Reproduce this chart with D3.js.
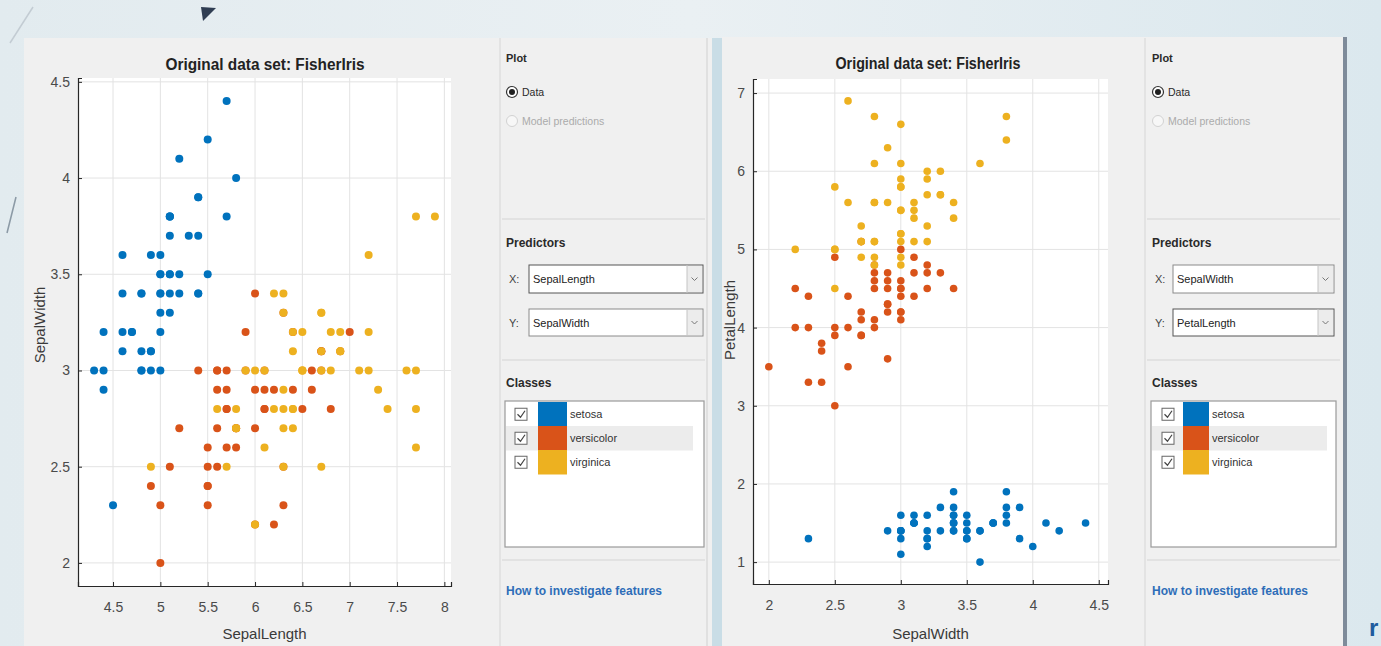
<!DOCTYPE html>
<html>
<head>
<meta charset="utf-8">
<script src="https://cdn.jsdelivr.net/npm/d3@7"></script>
<style>
  html, body { margin: 0; padding: 0; background: #e8eef1; }
  svg { display: block; }
  text { font-family: "Liberation Sans", Arial, Helvetica, sans-serif; }
</style>
</head>
<body>
<svg id="app" width="1381" height="646"></svg>
<script>
// Fisher's iris measurements (cm), 50 flowers per species
const species = ["setosa", "versicolor", "virginica"];
const speciesColors = ["#0072BD", "#D95319", "#EDB120"];

const sepalLength = {
  setosa: [5.1,4.9,4.7,4.6,5.0,5.4,4.6,5.0,4.4,4.9,5.4,4.8,4.8,4.3,5.8,5.7,5.4,5.1,5.7,5.1,5.4,5.1,4.6,5.1,4.8,5.0,5.0,5.2,5.2,4.7,4.8,5.4,5.2,5.5,4.9,5.0,5.5,4.9,4.4,5.1,5.0,4.5,4.4,5.0,5.1,4.8,5.1,4.6,5.3,5.0],
  versicolor: [7.0,6.4,6.9,5.5,6.5,5.7,6.3,4.9,6.6,5.2,5.0,5.9,6.0,6.1,5.6,6.7,5.6,5.8,6.2,5.6,5.9,6.1,6.3,6.1,6.4,6.6,6.8,6.7,6.0,5.7,5.5,5.5,5.8,6.0,5.4,6.0,6.7,6.3,5.6,5.5,5.5,6.1,5.8,5.0,5.6,5.7,5.7,6.2,5.1,5.7],
  virginica: [6.3,5.8,7.1,6.3,6.5,7.6,4.9,7.3,6.7,7.2,6.5,6.4,6.8,5.7,5.8,6.4,6.5,7.7,7.7,6.0,6.9,5.6,7.7,6.3,6.7,7.2,6.2,6.1,6.4,7.2,7.4,7.9,6.4,6.3,6.1,7.7,6.3,6.4,6.0,6.9,6.7,6.9,5.8,6.8,6.7,6.7,6.3,6.5,6.2,5.9]
};
const sepalWidth = {
  setosa: [3.5,3.0,3.2,3.1,3.6,3.9,3.4,3.4,2.9,3.1,3.7,3.4,3.0,3.0,4.0,4.4,3.9,3.5,3.8,3.8,3.4,3.7,3.6,3.3,3.4,3.0,3.4,3.5,3.4,3.2,3.1,3.4,4.1,4.2,3.1,3.2,3.5,3.6,3.0,3.4,3.5,2.3,3.2,3.5,3.8,3.0,3.8,3.2,3.7,3.3],
  versicolor: [3.2,3.2,3.1,2.3,2.8,2.8,3.3,2.4,2.9,2.7,2.0,3.0,2.2,2.9,2.9,3.1,3.0,2.7,2.2,2.5,3.2,2.8,2.5,2.8,2.9,3.0,2.8,3.0,2.9,2.6,2.4,2.4,2.7,2.7,3.0,3.4,3.1,2.3,3.0,2.5,2.6,3.0,2.6,2.3,2.7,3.0,2.9,2.9,2.5,2.8],
  virginica: [3.3,2.7,3.0,2.9,3.0,3.0,2.5,2.9,2.5,3.6,3.2,2.7,3.0,2.5,2.8,3.2,3.0,3.8,2.6,2.2,3.2,2.8,2.8,2.7,3.3,3.2,2.8,3.0,2.8,3.0,2.8,3.8,2.8,2.8,2.6,3.0,3.4,3.1,3.0,3.1,3.1,3.1,2.7,3.2,3.3,3.0,2.5,3.0,3.4,3.0]
};
const petalLength = {
  setosa: [1.4,1.4,1.3,1.5,1.4,1.7,1.4,1.5,1.4,1.5,1.5,1.6,1.4,1.1,1.2,1.5,1.3,1.4,1.7,1.5,1.7,1.5,1.0,1.7,1.9,1.6,1.6,1.5,1.4,1.6,1.6,1.5,1.5,1.4,1.5,1.2,1.3,1.4,1.3,1.5,1.3,1.3,1.3,1.6,1.9,1.4,1.6,1.4,1.5,1.4],
  versicolor: [4.7,4.5,4.9,4.0,4.6,4.5,4.7,3.3,4.6,3.9,3.5,4.2,4.0,4.7,3.6,4.4,4.5,4.1,4.5,3.9,4.8,4.0,4.9,4.7,4.3,4.4,4.8,5.0,4.5,3.5,3.8,3.7,3.9,5.1,4.5,4.5,4.7,4.4,4.1,4.0,4.4,4.6,4.0,3.3,4.2,4.2,4.2,4.3,3.0,4.1],
  virginica: [6.0,5.1,5.9,5.6,5.8,6.6,4.5,6.3,5.8,6.1,5.1,5.3,5.5,5.0,5.1,5.3,5.5,6.7,6.9,5.0,5.7,4.9,6.7,4.9,5.7,6.0,4.8,4.9,5.6,5.8,6.1,6.4,5.6,5.1,5.6,6.1,5.6,5.5,4.8,5.4,5.6,5.1,5.1,5.9,5.7,5.2,5.0,5.2,5.4,5.1]
};

// Tick values for the two views
const sepalLengthTicks = [4.5, 5, 5.5, 6, 6.5, 7, 7.5, 8];
const sepalWidthTicksY = [2, 2.5, 3, 3.5, 4, 4.5];
const sepalWidthTicksX = [2, 2.5, 3, 3.5, 4, 4.5];
const petalLengthTicks = [1, 2, 3, 4, 5, 6, 7];

const titleText = "Original data set: FisherIris";

const svg = d3.select("#app");

// ---------- desktop background ----------
const defs = svg.append("defs");
const bg = defs.append("linearGradient").attr("id", "bgGrad").attr("x1", 0).attr("x2", 1).attr("y1", 0).attr("y2", 0);
bg.append("stop").attr("offset", 0).attr("stop-color", "#e2ebef");
bg.append("stop").attr("offset", 0.5).attr("stop-color", "#eaf0f3");
bg.append("stop").attr("offset", 1).attr("stop-color", "#dbe8ee");
svg.append("rect").attr("width", 1381).attr("height", 646).attr("fill", "url(#bgGrad)");

// slide decorations
svg.append("line").attr("x1", 33).attr("y1", 7).attr("x2", 10).attr("y2", 43)
  .attr("stroke", "#c3ccd3").attr("stroke-width", 1.5);
svg.append("line").attr("x1", 16).attr("y1", 197).attr("x2", 7).attr("y2", 233)
  .attr("stroke", "#8c9aa6").attr("stroke-width", 1.5);
svg.append("path").attr("d", "M201,7 L216,8 L203,21 Z").attr("fill", "#2f3d52");
svg.append("text").attr("x", 1369).attr("y", 636).attr("font-size", 24).attr("font-weight", "bold")
  .attr("fill", "#1f5c9e").text("r");

// ---------- application windows ----------
svg.append("rect").attr("x", 24).attr("y", 38).attr("width", 688).attr("height", 608).attr("fill", "#f0f0f0");
svg.append("rect").attr("x", 712).attr("y", 38).attr("width", 10).attr("height", 608).attr("fill", "#c9dde6");
svg.append("rect").attr("x", 722).attr("y", 37).attr("width", 621).attr("height", 609).attr("fill", "#f0f0f0");
svg.append("rect").attr("x", 1343).attr("y", 37).attr("width", 4).attr("height", 609).attr("fill", "#7e8b9a");

// ---------- scatter plots ----------
function scatterPlot(cfg) {
  const g = svg.append("g");
  const x = d3.scaleLinear().domain(cfg.xDomain).range(cfg.xRange);
  const y = d3.scaleLinear().domain(cfg.yDomain).range(cfg.yRange);
  const [x0, x1] = cfg.xRange, [y0, y1] = cfg.yRange; // y0 bottom, y1 top

  g.append("rect").attr("x", x0).attr("y", y1).attr("width", x1 - x0).attr("height", y0 - y1)
    .attr("fill", "#ffffff");

  // grid
  g.append("g").selectAll("line").data(cfg.xTicks).join("line")
    .attr("x1", d => x(d)).attr("x2", d => x(d)).attr("y1", y0).attr("y2", y1)
    .attr("stroke", "#e3e3e3").attr("stroke-width", 1);
  g.append("g").selectAll("line").data(cfg.yTicks).join("line")
    .attr("y1", d => y(d)).attr("y2", d => y(d)).attr("x1", x0).attr("x2", x1)
    .attr("stroke", "#e3e3e3").attr("stroke-width", 1);

  // points, drawn class by class
  species.forEach((s, i) => {
    const xs = cfg.xData[s], ys = cfg.yData[s];
    g.append("g").selectAll("circle").data(xs.map((v, k) => [v, ys[k]])).join("circle")
      .attr("cx", d => x(d[0])).attr("cy", d => y(d[1])).attr("r", cfg.r)
      .attr("fill", speciesColors[i]);
  });

  // axes (ticks point inward)
  const xAxis = d3.axisBottom(x).tickValues(cfg.xTicks).tickSize(-4).tickPadding(16)
    .tickFormat(d3.format("~g"));
  const yAxis = d3.axisLeft(y).tickValues(cfg.yTicks).tickSize(-4).tickPadding(8)
    .tickFormat(d3.format("~g"));
  const gx = g.append("g").attr("transform", `translate(0,${y0})`).call(xAxis);
  const gy = g.append("g").attr("transform", `translate(${x0},0)`).call(yAxis);
  [gx, gy].forEach(a => {
    a.select(".domain").attr("stroke", "#262626").attr("stroke-width", 1.2);
    a.selectAll(".tick line").attr("stroke", "#262626");
    a.selectAll(".tick text").attr("fill", "#4a4a4a").attr("font-size", 14)
      .attr("font-family", "'Liberation Sans', Arial, sans-serif");
  });

  g.append("text").attr("x", cfg.titleX).attr("y", cfg.titleY).attr("text-anchor", "middle")
    .attr("font-size", 16).attr("font-weight", "bold").attr("fill", "#222")
    .attr("textLength", cfg.titleW).attr("lengthAdjust", "spacingAndGlyphs").text(titleText);
  g.append("text").attr("x", (x0 + x1) / 2).attr("y", cfg.xLabelY).attr("text-anchor", "middle")
    .attr("font-size", 15).attr("fill", "#3a3a3a").text(cfg.xLabel);
  g.append("text").attr("transform", `translate(${cfg.yLabelX},${cfg.yLabelCY}) rotate(-90)`)
    .attr("text-anchor", "middle").attr("font-size", 15).attr("fill", "#3a3a3a").text(cfg.yLabel);
}

scatterPlot({
  xData: sepalLength, yData: sepalWidth,
  xDomain: [4.13, 8.07], xRange: [78, 451],
  yDomain: [1.88, 4.52], yRange: [586, 78],
  xTicks: sepalLengthTicks, yTicks: sepalWidthTicksY, r: 4,
  titleX: 265, titleY: 70, titleW: 199,
  xLabel: "SepalLength", xLabelY: 639,
  yLabel: "SepalWidth", yLabelX: 45, yLabelCY: 325
});

scatterPlot({
  xData: sepalWidth, yData: petalLength,
  xDomain: [1.88, 4.57], xRange: [753, 1108],
  yDomain: [0.72, 7.18], yRange: [584, 79],
  xTicks: sepalWidthTicksX, yTicks: petalLengthTicks, r: 3.8,
  titleX: 928, titleY: 69, titleW: 185,
  xLabel: "SepalWidth", xLabelY: 639,
  yLabel: "PetalLength", yLabelX: 735, yLabelCY: 320
});

// ---------- control panels ----------
function controlPanel(p) {
  const g = svg.append("g");
  // panel borders
  g.append("line").attr("x1", p.edgeL).attr("x2", p.edgeL).attr("y1", 38).attr("y2", 646)
    .attr("stroke", "#d6d6d6");
  if (p.edgeR) g.append("line").attr("x1", p.edgeR).attr("x2", p.edgeR).attr("y1", 38).attr("y2", 646)
    .attr("stroke", "#d0d0d0");
  [219, 360, 560].forEach(yy => {
    g.append("line").attr("x1", p.divX0).attr("x2", p.divX1).attr("y1", yy).attr("y2", yy)
      .attr("stroke", "#d4d4d4");
  });

  const label = (x, y, t, opt = {}) => g.append("text").attr("x", x).attr("y", y)
    .attr("font-size", opt.size || 11).attr("font-weight", opt.bold ? "bold" : "normal")
    .attr("fill", opt.fill || "#2a2a2a").text(t);

  // Plot
  label(p.textX, 62, "Plot", { bold: true });
  g.append("circle").attr("cx", p.radioX).attr("cy", 92).attr("r", 5.5)
    .attr("fill", "#fff").attr("stroke", "#333").attr("stroke-width", 1.2);
  g.append("circle").attr("cx", p.radioX).attr("cy", 92).attr("r", 3).attr("fill", "#1e1e1e");
  label(p.radioX + 10, 96, "Data", { size: 10.5 });
  g.append("circle").attr("cx", p.radioX).attr("cy", 121).attr("r", 5.5)
    .attr("fill", "#f7f7f7").attr("stroke", "#d2d2d2");
  label(p.radioX + 10, 125, "Model predictions", { size: 10.5, fill: "#ababab" });

  // Predictors
  label(p.textX, 247, "Predictors", { size: 12, bold: true });
  [["X:", p.xVar, 265, 293], ["Y:", p.yVar, 309, 336]].forEach(([k, v, t, b], i) => {
    label(p.textX + 3, (t + b) / 2 + 4, k, { size: 11, fill: "#444" });
    g.append("rect").attr("x", p.dropX0).attr("y", t).attr("width", p.dropX1 - p.dropX0).attr("height", b - t)
      .attr("fill", "#fff").attr("stroke", p.focus === i ? "#555" : "#8a8a8a");
    g.append("rect").attr("x", p.dropX1 - 16).attr("y", t + 1).attr("width", 15).attr("height", b - t - 2)
      .attr("fill", "#ececec");
    g.append("line").attr("x1", p.dropX1 - 16).attr("x2", p.dropX1 - 16).attr("y1", t).attr("y2", b)
      .attr("stroke", "#c4c4c4");
    const cx = p.dropX1 - 8.5, cy = (t + b) / 2;
    g.append("path").attr("d", `M${cx - 3},${cy - 1.5} L${cx},${cy + 1.5} L${cx + 3},${cy - 1.5}`)
      .attr("fill", "none").attr("stroke", "#777").attr("stroke-width", 1);
    label(p.dropX0 + 4, (t + b) / 2 + 4, v, { size: 11, fill: "#222" });
  });

  // Classes
  label(p.textX, 387, "Classes", { size: 12, bold: true });
  g.append("rect").attr("x", p.listX0).attr("y", 401).attr("width", p.listX1 - p.listX0).attr("height", 146)
    .attr("fill", "#fff").attr("stroke", "#9a9a9a").attr("stroke-width", 1.2);
  const rowY = [402, 426, 450], rowH = 24.5;
  g.append("rect").attr("x", p.listX0 + 1).attr("y", rowY[1]).attr("width", p.hiX1 - p.listX0 - 1).attr("height", rowH)
    .attr("fill", "#ececec");
  species.forEach((s, i) => {
    const cy = rowY[i] + rowH / 2;
    g.append("rect").attr("x", p.checkX).attr("y", cy - 6).attr("width", 12).attr("height", 12)
      .attr("fill", "#fff").attr("stroke", "#666");
    g.append("path").attr("d", `M${p.checkX + 2.5},${cy} L${p.checkX + 5.5},${cy + 3} L${p.checkX + 10},${cy - 3.5}`)
      .attr("fill", "none").attr("stroke", "#444").attr("stroke-width", 1.2);
    g.append("rect").attr("x", p.swX0).attr("y", rowY[i]).attr("width", p.swX1 - p.swX0).attr("height", rowH)
      .attr("fill", speciesColors[i]);
    label(p.swX1 + 3, cy + 4, s, { size: 11, fill: "#333" });
  });

  // help link
  label(p.textX, 595, "How to investigate features", { size: 12, bold: true, fill: "#2e6db8" });
}

controlPanel({
  edgeL: 500, edgeR: 707, divX0: 502, divX1: 705,
  textX: 506, radioX: 512, dropX0: 529, dropX1: 703,
  listX0: 505, listX1: 704, hiX1: 693, checkX: 515, swX0: 538, swX1: 567,
  xVar: "SepalLength", yVar: "SepalWidth", focus: 0
});
controlPanel({
  edgeL: 1145, edgeR: null, divX0: 1147, divX1: 1340,
  textX: 1152, radioX: 1158, dropX0: 1173, dropX1: 1334,
  listX0: 1151, listX1: 1336, hiX1: 1327, checkX: 1162, swX0: 1183, swX1: 1209,
  xVar: "SepalWidth", yVar: "PetalLength", focus: 1
});
</script>
</body>
</html>
